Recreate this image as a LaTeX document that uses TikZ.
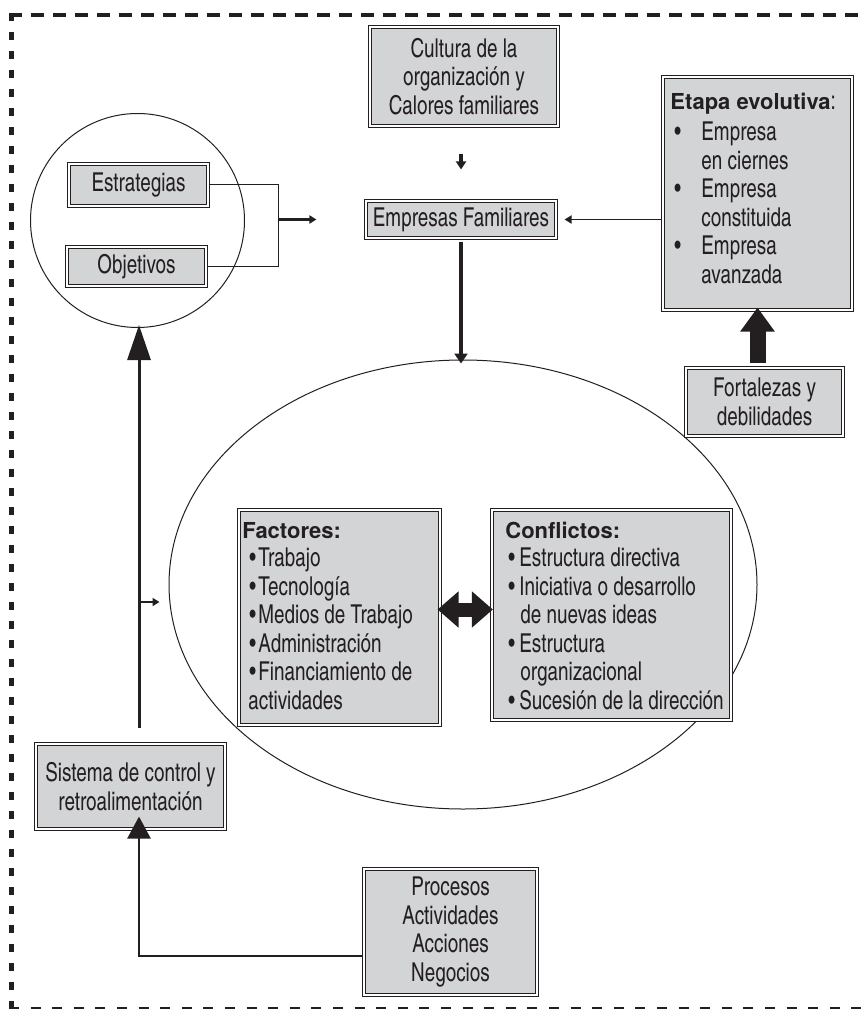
\documentclass[tikz,border=0pt]{standalone}
\usepackage{fontspec}
\setmainfont{texgyreheroscn}[Extension=.otf, UprightFont=*-regular, BoldFont=*-bold, ItalicFont=*-italic, BoldItalicFont=*-bolditalic, FakeStretch=0.885]
\newfontfamily\titlefont{TeX Gyre Heros}
\usetikzlibrary{arrows.meta, fit, shapes.geometric, calc}
\definecolor{boxgray}{RGB}{211,212,214}
\definecolor{ink}{RGB}{35,31,32}
\newcommand{\mybul}[1]{\makebox[#1][l]{\textbullet}}
\newcommand{\mytitle}[1]{\strut{\titlefont\fontsize{11}{14.25}\selectfont\bfseries #1}}
\begin{document}
\begin{tikzpicture}[x=0.5pt, y=-0.5pt,
  every node/.style={font=\fontsize{13}{14.25}\selectfont, text=ink},
  dbox/.style={draw=ink, line width=0.55pt, double=white, double distance=1.3pt, fill=boxgray, inner sep=0pt},
  ctext/.style={align=center, inner sep=0pt, anchor=center},
  txt/.style={anchor=north west, align=left, inner sep=0pt},
  outline/.style={draw=ink, line width=0.5pt, inner sep=0pt},
  brack/.style={draw=ink, line width=0.5pt},
  small/.style={draw=ink, line width=0.9pt, -{Triangle[length=3.5pt,width=4pt]}},
  stem/.style={draw=ink, line width=1.8pt, -{Triangle[length=4pt,width=5pt]}},
  big/.style={draw=ink, line width=1.5pt, -{Triangle[length=17.5pt,width=11.5pt]}},
  bigb/.style={draw=ink, line width=1.3pt, -{Triangle[length=11pt,width=11.5pt]}},
  block/.style={draw=ink, line width=8pt, -{Triangle[length=12pt,width=16.5pt]}},
  dblock/.style={draw=ink, line width=7pt, {Triangle[length=10.5pt,width=17.5pt]}-{Triangle[length=10.5pt,width=17.5pt]}}
]
\useasboundingbox (0,0) rectangle (867,1010);
% dashed frame
\draw[ink, line width=2pt, dash pattern=on 6.5pt off 4.5pt] (9,15) -- (867,15);
\draw[ink, line width=2.5pt, dash pattern=on 4pt off 5.5pt] (11.5,13) -- (11.5,1008);
\draw[ink, line width=1.3pt, dash pattern=on 5pt off 5.8pt] (9,1008) -- (867,1008);

% circle and ellipse
\node[outline, circle, minimum size=107pt] (circ) at (137.5,220.5) {};
\node[outline, ellipse, minimum width=294pt, minimum height=224.5pt] (ell) at (463,584.5) {};

% boxes
\node[dbox, fit={(370,27) (558,126)}] (cult) {};
\node[dbox, fit={(366,201) (556,238)}] (emp) {};
\node[dbox, fit={(69,164) (208,206)}] (estr) {};
\node[dbox, fit={(67,247) (206,286)}] (obj) {};
\node[dbox, fit={(663,77) (852,310)}] (etapa) {};
\node[dbox, fit={(686,368) (843,436)}] (fort) {};
\node[dbox, fit={(239,510) (440,725)}] (fact) {};
\node[dbox, fit={(492,510) (731,720)}] (conf) {};
\node[dbox, fit={(36,744) (225,829)}] (sist) {};
\node[dbox, fit={(364,869) (537,995)}] (proc) {};

% centred texts
\node[ctext] (cultT) at (cult.center) {Cultura de la\\organización y\\Calores familiares};
\node[ctext] (empT) at (emp.center) {Empresas Familiares};
\node[ctext] (estrT) at (estr.center) {Estrategias};
\node[ctext] (objT) at (obj.center) {Objetivos};
\node[ctext] (fortT) at (fort.center) {Fortalezas y\\debilidades};
\node[ctext] (sistT) at (sist.center) {Sistema de control y\\retroalimentación};
\node[ctext] (procT) at (proc.center) {Procesos\\Actividades\\Acciones\\Negocios};

% texts in list boxes (top = first baseline - 20)
\node[txt] (etapaT) at (670,89) {\mytitle{Etapa evolutiva}:\\[1.5pt]
\hspace*{2pt}\mybul{13.5pt}Empresa\\
\hspace*{15.5pt}en ciernes\\
\hspace*{2pt}\mybul{13.5pt}Empresa\\
\hspace*{15.5pt}constituida\\
\hspace*{2pt}\mybul{13.5pt}Empresa\\
\hspace*{15.5pt}avanzada};
\node[txt] (factT) at (242,518) {\mytitle{Factores:}\\
\hspace*{3.5pt}\mybul{4.5pt}Trabajo\\
\hspace*{3.5pt}\mybul{4.5pt}Tecnología\\
\hspace*{3.5pt}\mybul{4.5pt}Medios de Trabajo\\
\hspace*{3.5pt}\mybul{4.5pt}Administración\\
\hspace*{3.5pt}\mybul{4.5pt}Financiamiento de\\
\hspace*{3pt}actividades};
\node[txt] (confT) at (505,518) {\mytitle{Conflictos:}\\
\hspace*{1.5pt}\mybul{5.5pt}Estructura directiva\\
\hspace*{1.5pt}\mybul{5.5pt}Iniciativa o desarrollo\\
\hspace*{7.5pt}de nuevas ideas\\
\hspace*{1.5pt}\mybul{5.5pt}Estructura\\
\hspace*{7.5pt}organizacional\\
\hspace*{1.5pt}\mybul{5.5pt}Sucesión de la dirección};

% coordinates
\coordinate (brk) at (278,219.5);
\coordinate (vx) at (139,0);
\coordinate (br) at (139,602);
\coordinate (dy) at (0,609.5);

% connectors
\draw[brack] (estr.east) -| (brk |- obj.east) -- (obj.east);
\draw[small, line width=1.2pt, shorten >=24.5pt] (brk) -- (brk -| emp.west);
\draw[small, shorten >=4pt] (etapa.west |- emp.east) -- (emp.east);
\draw[stem, shorten <=13.5pt, shorten >=15.5pt] (cult.south -| emp.north) -- (emp.north);
\draw[stem, line width=2.3pt, -{Triangle[length=5pt,width=6.5pt]}, shorten <=1.5pt, shorten >=-2pt] (emp.south) -- (emp.south |- ell.north);
\draw[block, shorten <=2pt, shorten >=-1.5pt] (fort.north -| etapa.south) -- (etapa.south);
\draw[dblock, shorten <=-1.5pt, shorten >=-0.7pt] (fact.east |- dy) -- (conf.west |- dy);
\draw[big, shorten <=7.5pt, shorten >=-1.5pt] (vx |- sist.north) -- (vx |- circ.south);
\draw[small, line width=1.2pt, shorten >=4.5pt] (br) -- (br -| ell.west);
\draw[bigb, shorten >=-6.5pt] ($(proc.west)+(0,24)$) -| (vx |- sist.south);
\end{tikzpicture}
\end{document}
